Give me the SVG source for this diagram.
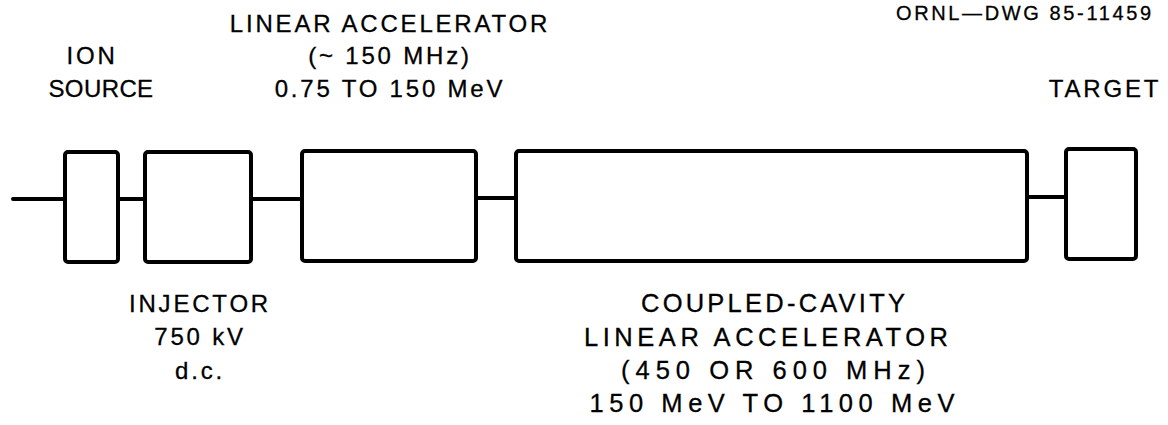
<svg xmlns="http://www.w3.org/2000/svg" width="1168" height="425" viewBox="0 0 1168 425">
<style>
.box{fill:#fff;stroke:#000;stroke-width:4}
.ln{stroke:#000;stroke-width:4;fill:none;stroke-linecap:round}
text{font-family:"Liberation Sans",Arial,sans-serif;font-size:24px;letter-spacing:2.8px;fill:#000;text-anchor:middle;stroke:#000;stroke-width:0.3px}
.big{font-size:25.5px;letter-spacing:0}
.id{font-size:20px;letter-spacing:0;text-anchor:end}
</style>
<rect width="1168" height="425" fill="#fff"/>
<g id="connectors">
<line class="ln" x1="13" y1="199" x2="65" y2="199"/>
<line class="ln" x1="118" y1="199" x2="145" y2="199"/>
<line class="ln" x1="251" y1="199" x2="302" y2="199"/>
<line class="ln" x1="476" y1="198" x2="516" y2="198"/>
<line class="ln" x1="1027" y1="197" x2="1066" y2="197"/>
</g>
<g id="ion-source">
<rect class="box" x="65" y="152" width="53" height="110" rx="3"/>
<text x="92" y="64">ION</text>
<text x="101" y="97" style="letter-spacing:0.4px">SOURCE</text>
</g>
<g id="injector">
<rect class="box" x="145" y="152" width="106" height="110" rx="3"/>
<text x="200" y="312">INJECTOR</text>
<text x="200" y="345">750 kV</text>
<text x="200" y="379">d.c.</text>
</g>
<g id="linac">
<rect class="box" x="302" y="151" width="174" height="110" rx="3"/>
<text x="390" y="32">LINEAR ACCELERATOR</text>
<text x="390" y="64">(~ 150 MHz)</text>
<text x="390" y="97">0.75 TO 150 MeV</text>
</g>
<g id="ccl">
<rect class="box" x="516" y="151" width="511" height="110" rx="3"/>
<text class="big" x="773" y="312" textLength="264" lengthAdjust="spacing">COUPLED-CAVITY</text>
<text class="big" x="766" y="346" textLength="364" lengthAdjust="spacing">LINEAR ACCELERATOR</text>
<text class="big" x="773" y="379" textLength="304" lengthAdjust="spacing">(450 OR 600 MHz)</text>
<text class="big" x="772" y="412" textLength="365" lengthAdjust="spacing">150 MeV TO 1100 MeV</text>
</g>
<g id="target">
<rect class="box" x="1066" y="149" width="70" height="110" rx="3"/>
<text x="1105" y="97">TARGET</text>
</g>
<g id="label">
<text class="id" x="1151" y="20" textLength="255" lengthAdjust="spacing">ORNL—DWG 85-11459</text>
</g>
</svg>
